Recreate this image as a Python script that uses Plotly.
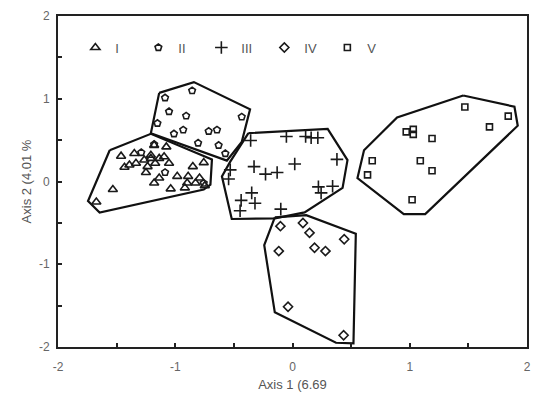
import plotly.graph_objects as go

# ---- data ----
group_names = ["I", "II", "III", "IV", "V"]

I_x = [-1.180, -1.462, -1.349, -1.208, -1.076, -1.391, -1.433, -1.335, -1.264, -1.236,
       -1.208, -1.137, -1.171, -1.250, -1.180, -1.137, -0.983, -1.039, -0.850, -0.890,
       -0.898, -0.918, -0.827, -0.757, -0.748, -1.053, -1.532, -1.673, -0.793, -1.095]
I_y = [0.437, 0.306, 0.338, 0.318, 0.418, 0.199, 0.172, 0.220, 0.259, 0.180,
       0.279, 0.279, 0.220, 0.109, -0.018, 0.042, 0.062, -0.089, 0.180, 0.062,
       -0.018, -0.077, -0.018, 0.228, -0.050, 0.220, -0.097, -0.247, 0.042, 0.299]

II_x = [-0.856, -1.087, -1.053, -0.907, -0.433, -1.152, -0.932, -0.715, -0.644, -1.011,
        -0.805, -0.630, -0.573, -1.180, -1.087, -0.757, -1.290]
II_y = [1.098, 1.011, 0.845, 0.793, 0.781, 0.703, 0.623, 0.607, 0.623, 0.576,
        0.465, 0.437, 0.338, 0.449, 0.110, -0.020, 0.350]

III_x = [-0.357, -0.052, 0.112, 0.159, 0.216, 0.379, 0.019, -0.328, -0.230, -0.131,
         -0.531, -0.545, 0.221, 0.342, 0.244, -0.348, -0.438, -0.320, -0.447, -0.100]
III_y = [0.496, 0.544, 0.544, 0.528, 0.528, 0.267, 0.211, 0.180, 0.089, 0.109,
         0.140, 0.030, -0.065, -0.057, -0.137, -0.137, -0.228, -0.263, -0.354, -0.334]

IV_x = [-0.103, 0.089, 0.145, 0.441, -0.117, 0.188, 0.281, -0.038, 0.436]
IV_y = [-0.540, -0.501, -0.620, -0.698, -0.841, -0.801, -0.841, -1.513, -1.858]

V_x = [1.47, 1.84, 1.68, 0.97, 1.03, 1.03, 1.19, 0.68, 0.64, 1.09, 1.19, 1.02]
V_y = [0.90, 0.79, 0.66, 0.60, 0.63, 0.57, 0.52, 0.25, 0.08, 0.25, 0.13, -0.22]

# hull outlines
I_hx = [-1.559, -1.208, -0.687, -0.700, -0.757, -1.645, -1.744]
I_hy = [0.378, 0.576, 0.267, -0.038, -0.097, -0.374, -0.235]
II_hx = [-1.137, -0.841, -0.362, -0.433, -0.560, -1.208]
II_hy = [1.071, 1.201, 0.872, 0.477, 0.252, 0.584]
III_hx = [-0.376, 0.300, 0.469, 0.427, 0.103, -0.150, -0.518, -0.602, -0.531]
III_hy = [0.584, 0.635, 0.259, -0.077, -0.374, -0.445, -0.453, 0.062, 0.240]
IV_hx = [-0.151, 0.117, 0.540, 0.520, 0.371, -0.151, -0.241]
IV_hy = [-0.433, -0.406, -0.631, -1.956, -1.949, -1.581, -0.770]
V_hx = [1.456, 1.893, 1.921, 1.132, 0.949, 0.554, 0.610, 0.892]
V_hy = [1.039, 0.904, 0.674, -0.394, -0.394, 0.042, 0.378, 0.774]

x_tickvals = [-2, -1.5, -1, -0.5, 0, 0.5, 1, 1.5, 2]
x_ticktext = ["-2", "", "-1", "", "0", "", "1", "", "2"]
y_tickvals = [-2, -1.5, -1, -0.5, 0, 0.5, 1, 1.5, 2]
y_ticktext = ["-2", "", "-1", "", "0", "", "1", "", "2"]

x_title = "Axis 1 (6.69"
y_title = "Axis 2 (4.01 %"

# ---- figure ----
pts = [(I_x, I_y), (II_x, II_y), (III_x, III_y), (IV_x, IV_y), (V_x, V_y)]
hulls = [(I_hx, I_hy), (II_hx, II_hy), (III_hx, III_hy), (IV_hx, IV_hy), (V_hx, V_hy)]
symbols = ["triangle-up-open", "pentagon-open", "cross-thin-open", "diamond-open", "square-open"]
sizes = [8, 7, 9, 7, 6]

fig = go.Figure()
for hx, hy in hulls:
    fig.add_trace(go.Scatter(x=hx + hx[:1], y=hy + hy[:1], mode="lines",
                             line=dict(color="#111", width=2.2), showlegend=False,
                             hoverinfo="skip"))
for name, (px, py), sym, sz in zip(group_names, pts, symbols, sizes):
    fig.add_trace(go.Scatter(x=px, y=py, mode="markers", name=name,
                             marker=dict(symbol=sym, size=sz, color="#1a1a1a",
                                         line=dict(color="#1a1a1a", width=1.6))))

font_fam = "Liberation Sans, Arial"
axis_common = dict(range=[-2, 2], showgrid=False, zeroline=False, showline=True,
                   linecolor="#222", linewidth=2, mirror=True, ticks="inside",
                   ticklen=4, tickcolor="#222", tickwidth=1.5,
                   tickfont=dict(family=font_fam, size=12, color="#666"))
fig.update_xaxes(tickvals=x_tickvals, ticktext=x_ticktext, ticklabelstandoff=8,
                 title=dict(text=x_title, font=dict(family=font_fam, size=13, color="#555"),
                            standoff=6),
                 **axis_common)
fig.update_yaxes(tickvals=y_tickvals, ticktext=y_ticktext, ticklabelstandoff=4,
                 title=dict(text=y_title, font=dict(family=font_fam, size=13, color="#555"),
                            standoff=4),
                 **axis_common)

fig.update_layout(
    width=540, height=408,
    margin=dict(l=58, r=9, t=10, b=61),
    paper_bgcolor="white", plot_bgcolor="white",
    legend=dict(orientation="h", x=0.037, y=0.95, xanchor="left", yanchor="top",
                bgcolor="rgba(0,0,0,0)", font=dict(family=font_fam, size=13, color="#555"),
                itemwidth=30, entrywidth=18, entrywidthmode="pixels", tracegroupgap=0),
)

fig.write_html("out.html")
